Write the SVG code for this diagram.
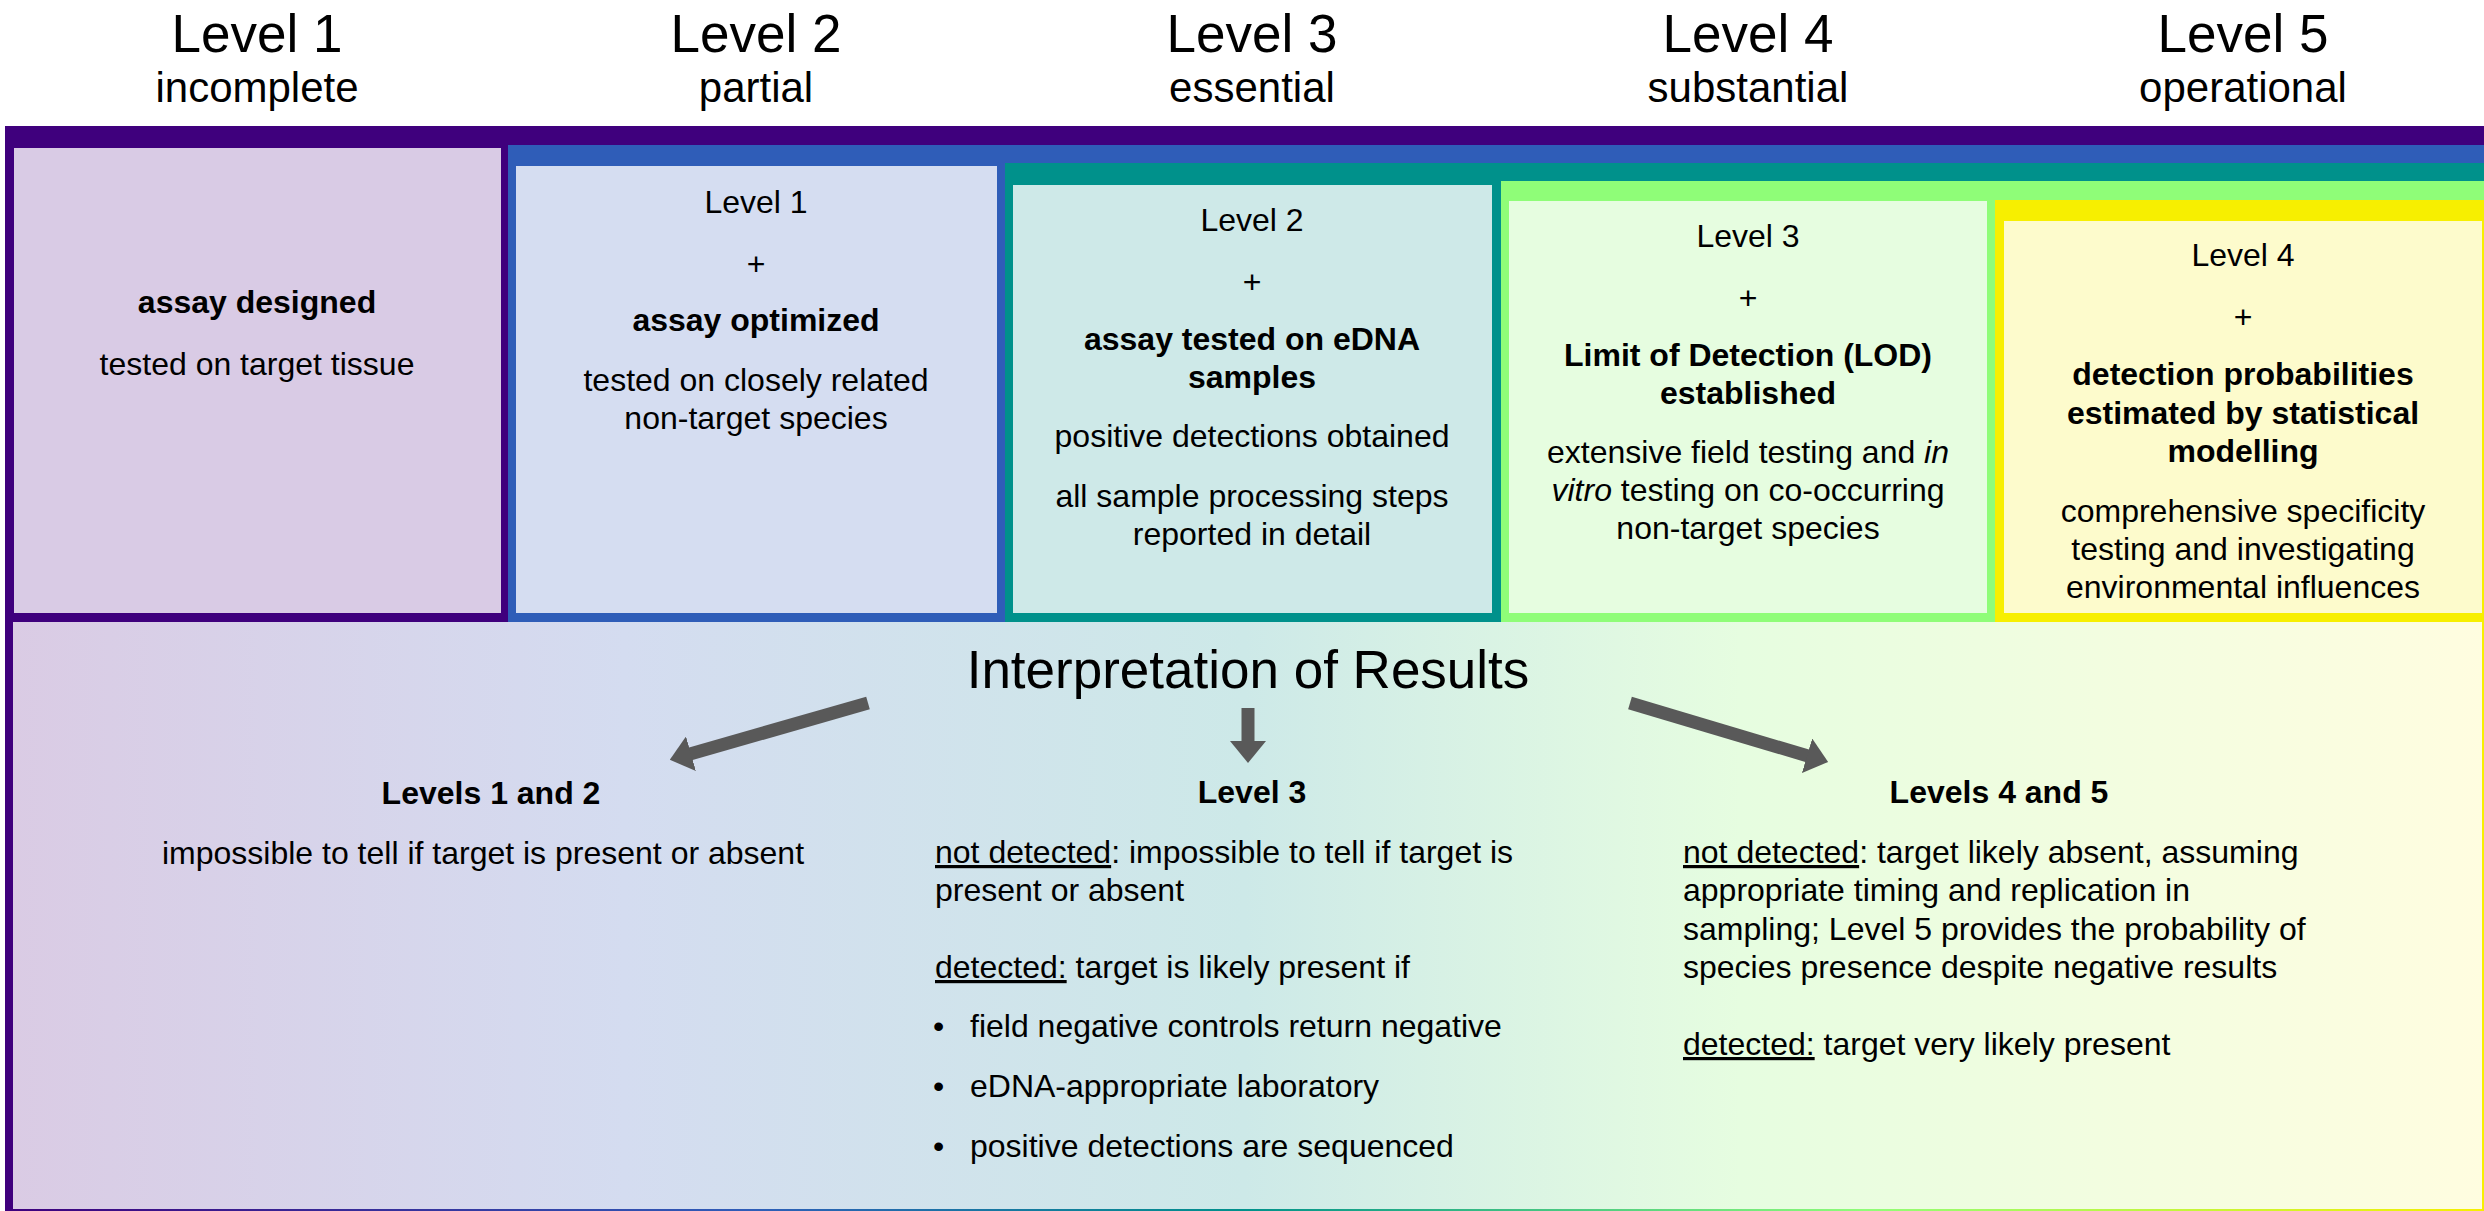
<svg xmlns="http://www.w3.org/2000/svg" width="2484" height="1211" viewBox="0 0 2484 1211">
<defs>
<style>
.t{font-family:"Liberation Sans",Arial,sans-serif;fill:#000}
.h1{font-size:53px;text-anchor:middle}
.h2{font-size:42px;text-anchor:middle}
.c{font-size:32px;text-anchor:middle}
.cb{font-size:32px;text-anchor:middle;font-weight:bold}
.l{font-size:32px}
.u{text-decoration:underline}
.i{font-style:italic}
</style>
<linearGradient id="panelFill" x1="0" y1="0" x2="1" y2="0">
<stop offset="0" stop-color="#dacbe4"/>
<stop offset="0.25" stop-color="#d4dcf0"/>
<stop offset="0.5" stop-color="#cde9e8"/>
<stop offset="0.7" stop-color="#e6fde0"/>
<stop offset="1" stop-color="#fffde0"/>
</linearGradient>
<linearGradient id="panelLine" x1="0" y1="0" x2="1" y2="0">
<stop offset="0" stop-color="#3f007d"/>
<stop offset="0.3" stop-color="#2f5db8"/>
<stop offset="0.5" stop-color="#00918b"/>
<stop offset="0.75" stop-color="#8ffd78"/>
<stop offset="1" stop-color="#f7ef00"/>
</linearGradient>
<marker id="ah" markerUnits="userSpaceOnUse" markerWidth="22" markerHeight="36" viewBox="0 0 22 36" refX="1" refY="18" orient="auto">
<path d="M0,0 L22,18 L0,36 z" fill="#595959"/>
</marker>
</defs>
<rect width="2484" height="1211" fill="#ffffff"/>

<g id="level1">
<text class="t h1" x="257" y="52">Level 1</text>
<text class="t h2" x="257" y="102">incomplete</text>
<rect x="5" y="126" width="2479" height="496" fill="#3f007d"/>
<rect x="14" y="148" width="487" height="465" fill="#d9cbe5"/>
<text class="t cb" x="257" y="313">assay designed</text>
<text class="t c" x="257" y="375">tested on target tissue</text>
</g>

<g id="level2">
<text class="t h1" x="756" y="52">Level 2</text>
<text class="t h2" x="756" y="102">partial</text>
<rect x="508" y="145" width="1976" height="477" fill="#2f5db8"/>
<rect x="516" y="166" width="481" height="447" fill="#d5ddf1"/>
<text class="t c" x="756" y="213">Level 1</text>
<text class="t c" x="756" y="275">+</text>
<text class="t cb" x="756" y="331">assay optimized</text>
<text class="t c" x="756" y="391">tested on closely related</text>
<text class="t c" x="756" y="429">non-target species</text>
</g>

<g id="level3">
<text class="t h1" x="1252" y="52">Level 3</text>
<text class="t h2" x="1252" y="102">essential</text>
<rect x="1005" y="163" width="1479" height="459" fill="#00918b"/>
<rect x="1013" y="185" width="479" height="428" fill="#cee9e8"/>
<text class="t c" x="1252" y="231">Level 2</text>
<text class="t c" x="1252" y="293">+</text>
<text class="t cb" x="1252" y="350">assay tested on eDNA</text>
<text class="t cb" x="1252" y="388">samples</text>
<text class="t c" x="1252" y="447">positive detections obtained</text>
<text class="t c" x="1252" y="507">all sample processing steps</text>
<text class="t c" x="1252" y="545">reported in detail</text>
</g>

<g id="level4">
<text class="t h1" x="1748" y="52">Level 4</text>
<text class="t h2" x="1748" y="102">substantial</text>
<rect x="1501" y="181" width="983" height="441" fill="#8ffd78"/>
<rect x="1509" y="201" width="478" height="412" fill="#e6fde0"/>
<text class="t c" x="1748" y="247">Level 3</text>
<text class="t c" x="1748" y="309">+</text>
<text class="t cb" x="1748" y="366">Limit of Detection (LOD)</text>
<text class="t cb" x="1748" y="404">established</text>
<text class="t c" x="1748" y="463">extensive field testing and <tspan class="i">in</tspan></text>
<text class="t c" x="1748" y="501"><tspan class="i">vitro</tspan> testing on co-occurring</text>
<text class="t c" x="1748" y="539">non-target species</text>
</g>

<g id="level5">
<text class="t h1" x="2243" y="52">Level 5</text>
<text class="t h2" x="2243" y="102">operational</text>
<rect x="1995" y="200" width="489" height="422" fill="#f7ef00"/>
<rect x="2004" y="221" width="478" height="392" fill="#fdfbcc"/>
<text class="t c" x="2243" y="266">Level 4</text>
<text class="t c" x="2243" y="328">+</text>
<text class="t cb" x="2243" y="385">detection probabilities</text>
<text class="t cb" x="2243" y="424">estimated by statistical</text>
<text class="t cb" x="2243" y="462">modelling</text>
<text class="t c" x="2243" y="522">comprehensive specificity</text>
<text class="t c" x="2243" y="560">testing and investigating</text>
<text class="t c" x="2243" y="598">environmental influences</text>
</g>

<g id="interpretation">
<rect x="5" y="622" width="2479" height="589" fill="url(#panelFill)"/>
<rect x="5" y="622" width="8" height="589" fill="#3f007d"/>
<rect x="5" y="1209" width="2479" height="2" fill="url(#panelLine)"/>
<rect x="2482" y="622" width="2" height="589" fill="#f7ef00"/>
<text class="t h1" x="1248" y="688">Interpretation of Results</text>
</g>

<g id="connectors" fill="none" stroke="#595959" stroke-width="13" marker-end="url(#ah)">
<line x1="868" y1="703" x2="690" y2="754"/>
<line x1="1248" y1="708" x2="1248" y2="742"/>
<line x1="1630" y1="703" x2="1808" y2="756"/>
</g>

<g id="result12">
<text class="t cb" x="491" y="804">Levels 1 and 2</text>
<text class="t c" x="483" y="864">impossible to tell if target is present or absent</text>
</g>

<g id="result3">
<text class="t cb" x="1252" y="803">Level 3</text>
<text class="t l" x="935" y="863"><tspan class="u">not detected</tspan>: impossible to tell if target is</text>
<text class="t l" x="935" y="901">present or absent</text>
<text class="t l" x="935" y="978"><tspan class="u">detected:</tspan> target is likely present if</text>
<text class="t l" x="933" y="1037">•</text>
<text class="t l" x="970" y="1037">field negative controls return negative</text>
<text class="t l" x="933" y="1097">•</text>
<text class="t l" x="970" y="1097">eDNA-appropriate laboratory</text>
<text class="t l" x="933" y="1157">•</text>
<text class="t l" x="970" y="1157">positive detections are sequenced</text>
</g>

<g id="result45">
<text class="t cb" x="1999" y="803">Levels 4 and 5</text>
<text class="t l" x="1683" y="863"><tspan class="u">not detected</tspan>: target likely absent, assuming</text>
<text class="t l" x="1683" y="901">appropriate timing and replication in</text>
<text class="t l" x="1683" y="940">sampling; Level 5 provides the probability of</text>
<text class="t l" x="1683" y="978">species presence despite negative results</text>
<text class="t l" x="1683" y="1055"><tspan class="u">detected:</tspan> target very likely present</text>
</g>
</svg>
